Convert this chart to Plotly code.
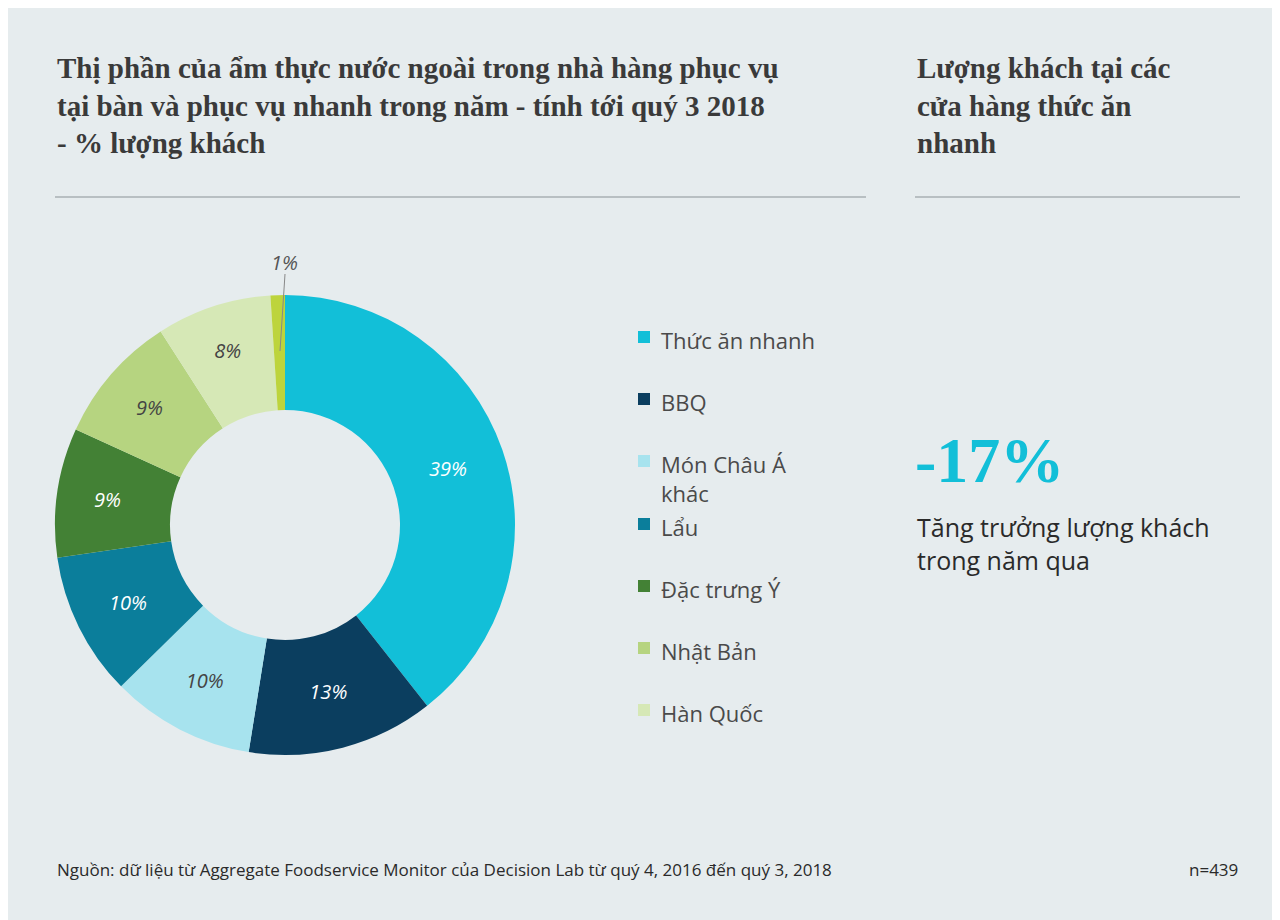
import plotly.graph_objects as go

categories = ["Thức ăn nhanh", "BBQ", "Món Châu Á khác", "Lẩu", "Đặc trưng Ý", "Nhật Bản", "Hàn Quốc", "Khác"]
values = [39, 13, 10, 10, 9, 9, 8, 1]
colors = ["#12BFD8", "#0B3E5F", "#A7E3EE", "#0B7E9B", "#438135", "#B6D480", "#D6E8B6", "#BDD43C"]
text_colors = ["white", "white", "#444", "white", "white", "#444", "#444", "#444"]
legend_labels = ["Thức ăn nhanh", "BBQ", "Món Châu Á<br>khác", "Lẩu", "Đặc trưng Ý", "Nhật Bản", "Hàn Quốc"]

W, H = 1280, 920
bg = "#E6ECEE"
fig = go.Figure()
texts = [f"{v}%" if v > 1 else "" for v in values]
fig.add_trace(go.Pie(
    labels=categories, values=values, sort=False, direction="clockwise", rotation=0,
    hole=0.5, marker=dict(colors=colors, line=dict(width=0)),
    text=texts, textinfo="text", textposition="inside", insidetextorientation="horizontal",
    textfont=dict(family="Open Sans", size=20, color=text_colors, style="italic"),
    domain=dict(x=[47/W, 507/W], y=[(H-747)/H, (H-287)/H]), showlegend=False, hoverinfo="skip"))

ann = []
shapes = []
def py(y): return 1 - y / H
ann.append(dict(x=47/W, y=py(42), xanchor="left", yanchor="top", align="left", showarrow=False,
    text="Thị phần của ẩm thực nước ngoài trong nhà hàng phục vụ<br>tại bàn và phục vụ nhanh trong năm - tính tới quý 3 2018<br>- % lượng khách",
    font=dict(family="Liberation Serif", size=29, color="#3A3A3A", weight="bold")))
ann.append(dict(x=907/W, y=py(42), xanchor="left", yanchor="top", align="left", showarrow=False,
    text="Lượng khách tại các<br>cửa hàng thức ăn<br>nhanh",
    font=dict(family="Liberation Serif", size=29, color="#3A3A3A", weight="bold")))
shapes.append(dict(type="line", xref="paper", yref="paper", x0=47/W, x1=858/W, y0=py(189), y1=py(189), line=dict(color="#A8B0B3", width=1.5)))
shapes.append(dict(type="line", xref="paper", yref="paper", x0=907/W, x1=1232/W, y0=py(189), y1=py(189), line=dict(color="#A8B0B3", width=1.5)))

ys = [329, 391, 453, 516, 578, 640, 702]
for lab, c, y in zip(legend_labels, colors, ys):
    shapes.append(dict(type="rect", xref="paper", yref="paper", x0=630/W, x1=642/W, y0=py(y+6), y1=py(y-6), fillcolor=c, line=dict(width=0)))
    ann.append(dict(x=651/W, y=py(y-14), xanchor="left", yanchor="top", align="left", showarrow=False,
        text=lab, font=dict(family="Open Sans", size=22, color="#4A4A4A")))

shapes.append(dict(type="line", xref="paper", yref="paper", x0=277/W, y0=py(266), x1=272/W, y1=py(343),
    line=dict(color="#888", width=1)))
ann.append(dict(x=276/W, y=py(254), xanchor="center", yanchor="middle", showarrow=False, text="1%",
    font=dict(family="Open Sans", size=20, color="#555", style="italic")))

ann.append(dict(x=905/W, y=py(452), xanchor="left", yanchor="middle", showarrow=False, text="-17%",
    font=dict(family="Liberation Serif", size=64, color="#12BFD8", weight="bold")))
ann.append(dict(x=907/W, y=py(500), xanchor="left", yanchor="top", align="left", showarrow=False,
    text="Tăng trưởng lượng khách<br>trong năm qua", font=dict(family="Open Sans", size=25, color="#2A2A2A")))
ann.append(dict(x=47/W, y=py(861), xanchor="left", yanchor="middle", showarrow=False,
    text="Nguồn: dữ liệu từ Aggregate Foodservice Monitor của Decision Lab từ quý 4, 2016 đến quý 3, 2018",
    font=dict(family="Open Sans", size=17, color="#2A2A2A")))
ann.append(dict(x=1232/W, y=py(861), xanchor="right", yanchor="middle", showarrow=False, text="n=439",
    font=dict(family="Open Sans", size=17, color="#2A2A2A")))
for a in ann:
    a.setdefault("xref", "paper"); a.setdefault("yref", "paper")

fig.update_layout(width=W, height=H, margin=dict(l=0, r=0, t=0, b=0), paper_bgcolor=bg, plot_bgcolor=bg,
    annotations=ann, shapes=shapes)
fig.write_html("out.html")
